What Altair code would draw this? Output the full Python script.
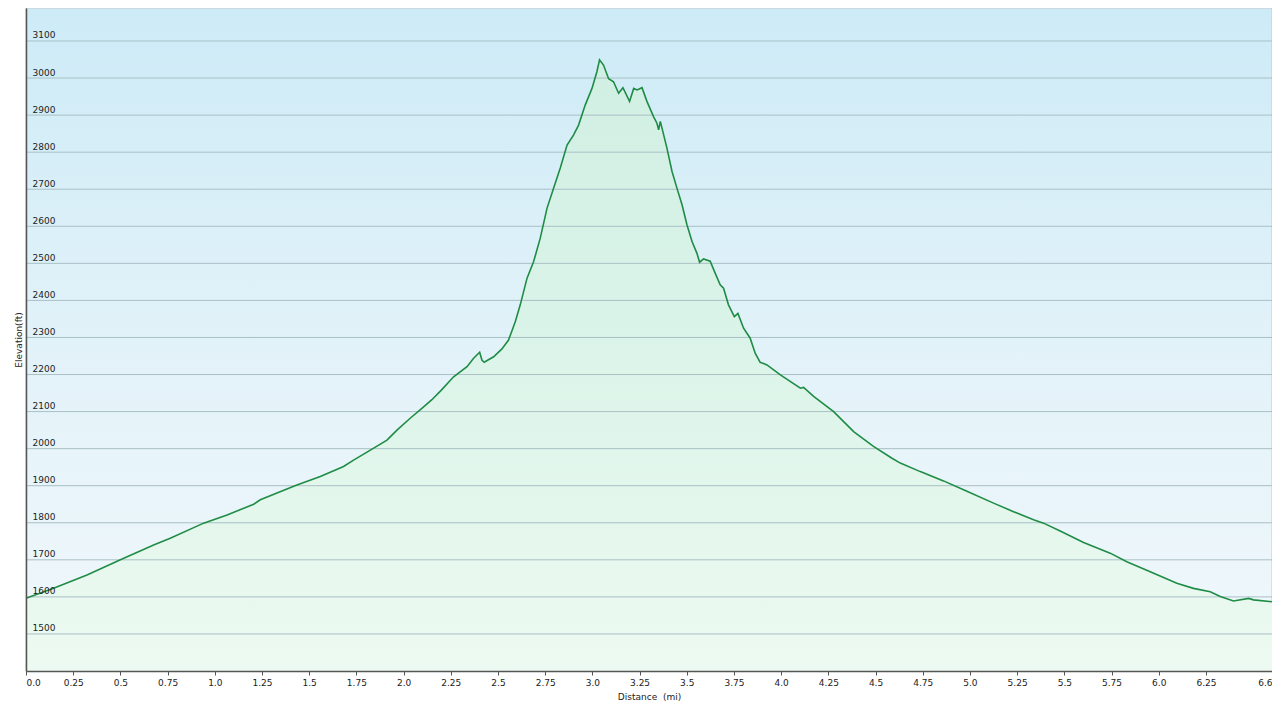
import altair as alt
import pandas as pd

dist = [0.0, 0.146, 0.323, 0.5, 0.676, 0.764, 0.941, 1.065, 1.206, 1.241, 1.382, 1.435,
        1.559, 1.682, 1.735, 1.824, 1.912, 1.965, 2.035, 2.1, 2.15, 2.2, 2.265, 2.336,
        2.371, 2.403, 2.415, 2.427, 2.477, 2.521, 2.556, 2.592, 2.618, 2.654, 2.689, 2.724,
        2.760, 2.795, 2.830, 2.866, 2.900, 2.927, 2.962, 2.998, 3.024, 3.038, 3.059, 3.086,
        3.112, 3.139, 3.162, 3.197, 3.219, 3.237, 3.263, 3.289, 3.324, 3.342, 3.351, 3.360,
        3.395, 3.422, 3.448, 3.475, 3.501, 3.528, 3.554, 3.568, 3.589, 3.624, 3.651, 3.677,
        3.695, 3.721, 3.752, 3.771, 3.801, 3.836, 3.863, 3.889, 3.925, 3.996, 4.102, 4.119,
        4.172, 4.278, 4.384, 4.489, 4.587, 4.631, 4.737, 4.860, 4.984, 5.125, 5.231, 5.337,
        5.390, 5.478, 5.602, 5.743, 5.831, 5.955, 6.096, 6.184, 6.273, 6.326, 6.396, 6.476,
        6.502, 6.6]
elev = [1596, 1623, 1659, 1700, 1740, 1758, 1799, 1821, 1850, 1862, 1891, 1902,
        1925, 1952, 1969, 1996, 2023, 2050, 2082, 2110, 2132, 2158, 2194, 2221,
        2244, 2260, 2239, 2233, 2248, 2269, 2293, 2343, 2388, 2460, 2505, 2568,
        2649, 2703, 2757, 2819, 2846, 2873, 2927, 2972, 3017, 3049, 3035, 2998,
        2990, 2959, 2974, 2937, 2972, 2968, 2974, 2937, 2896, 2878, 2860, 2883,
        2811, 2748, 2703, 2658, 2604, 2559, 2527, 2503, 2512, 2506, 2473, 2442,
        2433, 2388, 2356, 2365, 2325, 2298, 2257, 2233, 2226, 2199, 2163, 2165,
        2141, 2100, 2046, 2006, 1974, 1961, 1938, 1913, 1885, 1853, 1830, 1808,
        1799, 1778, 1747, 1718, 1695, 1668, 1637, 1623, 1614, 1601, 1589, 1596,
        1592, 1587]

y_ticks = [1500, 1600, 1700, 1800, 1900, 2000, 2100, 2200, 2300, 2400, 2500,
           2600, 2700, 2800, 2900, 3000, 3100]
x_ticks = [0.0, 0.25, 0.5, 0.75, 1.0, 1.25, 1.5, 1.75, 2.0, 2.25, 2.5, 2.75, 3.0,
           3.25, 3.5, 3.75, 4.0, 4.25, 4.5, 4.75, 5.0, 5.25, 5.5, 5.75, 6.0, 6.25, 6.6]
y_min, y_max = 1400, 3189

df = pd.DataFrame({"dist": dist, "elev": elev})

W, H = 1246, 663
FONT = "DejaVu Sans"

xscale = alt.Scale(domain=[0, 6.6], nice=False, zero=False)
yscale = alt.Scale(domain=[y_min, y_max], nice=False, zero=False)

xaxis = alt.Axis(
    values=x_ticks,
    labelExpr="(datum.value % 1 == 0) ? format(datum.value, '.1f') : format(datum.value, '.2~f')",
    title="Distance \u00a0(mi)",
    grid=False, zindex=2,
    domainColor="#555555", domainWidth=1.5,
    tickColor="#555555", tickSize=4, tickWidth=1,
    labelFont=FONT, labelFontSize=9, labelColor="#222222",
    labelPadding=3, labelFlush=True, labelOverlap=False,
    titleFont=FONT, titleFontSize=9, titleFontWeight="normal", titleColor="#222222",
    titlePadding=5,
)

yaxis = alt.Axis(
    values=y_ticks, format="d",
    grid=False, ticks=False, tickSize=0, zindex=2,
    domainColor="#555555", domainWidth=1.5,
    labelFont=FONT, labelFontSize=9, labelColor="#222222",
    labelAlign="left", labelBaseline="alphabetic",
    labelPadding=-6, labelOffset=-3, labelOverlap=False,
    title="Elevation(ft)",
    titleFont=FONT, titleFontSize=9, titleFontWeight="normal", titleColor="#222222",
    titleAngle=270, titleBaseline="middle", titleAlign="center",
    titleX=-8, titleY=H / 2,
)

bg_grad = alt.Gradient(
    gradient="linear", x1=0, x2=0, y1=0, y2=1,
    stops=[alt.GradientStop(color="#cdebf7", offset=0),
           alt.GradientStop(color="#e2f2f9", offset=0.5),
           alt.GradientStop(color="#f1f8fb", offset=1)],
)
area_grad = alt.Gradient(
    gradient="linear", x1=0, x2=0, y1=0, y2=1,
    stops=[alt.GradientStop(color="#d1efe3", offset=0),
           alt.GradientStop(color="#dcf4e9", offset=0.5),
           alt.GradientStop(color="#edfaf1", offset=1)],
)

bg = alt.Chart(pd.DataFrame({"k": [0]})).mark_rect(
    fill=bg_grad, stroke="#c8c8c8", strokeWidth=1
).encode(
    x=alt.datum(0, scale=xscale), x2=alt.datum(6.6),
    y=alt.datum(y_min, scale=yscale), y2=alt.datum(y_max),
)

area = alt.Chart(df).mark_area(fill=area_grad).encode(
    x=alt.X("dist:Q", scale=xscale),
    y=alt.Y("elev:Q", scale=yscale),
    y2=alt.datum(y_min),
)

grid = alt.Chart(pd.DataFrame({"v": y_ticks})).mark_rule(
    color="#a9c0c6", strokeWidth=1
).encode(y=alt.Y("v:Q", scale=yscale))

line = alt.Chart(df).mark_line(color="#1f8c46", strokeWidth=1.6).encode(
    x=alt.X("dist:Q", scale=xscale, axis=xaxis),
    y=alt.Y("elev:Q", scale=yscale, axis=yaxis),
)

chart = alt.layer(bg, area, grid, line).properties(
    width=W, height=H,
    autosize=alt.AutoSizeParams(type="none"),
    padding={"left": 18, "top": 0, "right": 0, "bottom": 32},
    background="white",
).configure_view(stroke=None)

chart.save("out.html", embed_options={"renderer": "svg", "actions": False})
